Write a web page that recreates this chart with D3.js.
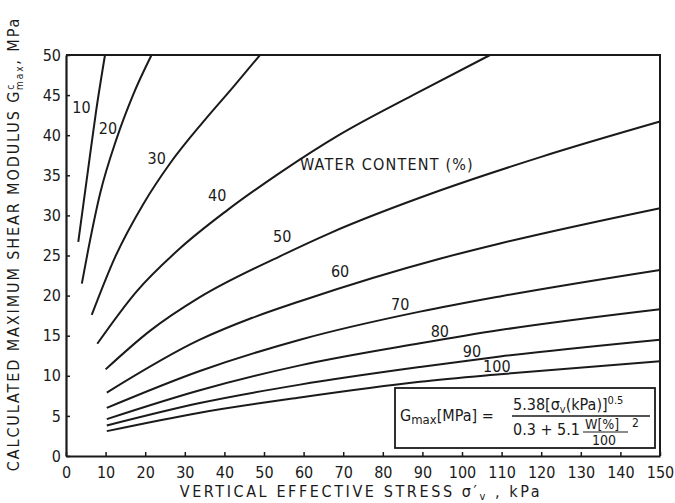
<!DOCTYPE html>
<html>
<head>
<meta charset="utf-8">
<script src="https://cdn.jsdelivr.net/npm/d3@7"></script>
<style>
  body { margin: 0; background: #fff; }
  text { font-family: "DejaVu Sans Condensed", "DejaVu Sans", sans-serif; fill: #1a1a1a; }
</style>
</head>
<body>
<div id="chart-area"></div>
<script>
// --- Data: [vertical effective stress kPa, Gmax MPa] ---
var waterContents = [10, 20, 30, 40, 50, 60, 70, 80, 90, 100];

var w10  = [[3.1, 26.7], [5.6, 35.8], [7.6, 43.0], [9.85, 50]];
var w20  = [[4.0, 21.5], [5.6, 25.7], [8.6, 32.7], [12.8, 39.6], [17.0, 45.1], [21.6, 50]];
var w30  = [[6.5, 17.6], [12.4, 24.8], [19.5, 31.4], [26.3, 36.5], [34.7, 41.7], [42.2, 46.0], [49, 50]];
var w40  = [[7.9, 14.0], [17.8, 20.5], [28.8, 25.9], [40.6, 30.6], [54, 35.3], [69.2, 40.1], [87.6, 45.0], [107.1, 50]];
var w50  = [[10, 10.8], [21.2, 15.6], [33.8, 19.8], [54, 24.9], [66.7, 27.8], [94.4, 33.1], [120, 37.3], [150, 41.7]];
var w60  = [[10.3, 7.9], [33.8, 14.5], [46.9, 17.2], [59.1, 19.3], [94.4, 24.6], [109.6, 26.5], [150, 30.9]];
var w70  = [[10.3, 6.0], [33.8, 10.6], [59.1, 14.5], [89.4, 18.0], [109.6, 19.9], [150, 23.2]];
var w80  = [[10.3, 4.6], [33.8, 8.2], [59.1, 11.3], [89.4, 14.05], [109.6, 15.7], [150, 18.3]];
var w90  = [[10.3, 3.8], [33.8, 6.6], [59.1, 8.9], [89.4, 11.1], [109.6, 12.4], [150, 14.5]];
var w100 = [[10.3, 3.1], [33.8, 5.4], [59.1, 7.3], [89.4, 9.26], [109.6, 10.2], [150, 11.8]];

var curves = [w10, w20, w30, w40, w50, w60, w70, w80, w90, w100];

// label anchor for each curve, in data units [stress, Gmax]
var labelPos = [[3.9, 43.5], [10.6, 40.8], [22.9, 37.1], [38.2, 32.5], [54.6, 27.4], [69.2, 23.0],
                [84.4, 18.9], [94.4, 15.5], [102.5, 13.1], [108.8, 11.2]];

var xTicks = d3.range(0, 151, 10);
var yTicks = d3.range(0, 51, 5);

// --- Setup the canvas ---
var margins = {top: 55, bottom: 47, left: 66, right: 15};
var width = 675 - margins.left - margins.right;
var height = 503 - margins.top - margins.bottom;

var svg = d3.select("#chart-area").append("svg")
    .attr("width", 675)
    .attr("height", 503);

var group = svg.append("g")
    .attr("transform", "translate(" + margins.left + ", " + margins.top + ")");

// --- Scales ---
var x = d3.scaleLinear().domain([0, 150]).range([0, width]);
var y = d3.scaleLinear().domain([0, 50]).range([height, 0]);

// --- Axes ---
var xAxis = d3.axisBottom(x).tickValues(xTicks).tickSizeInner(-4).tickSizeOuter(0).tickPadding(11);
var yAxis = d3.axisLeft(y).tickValues(yTicks).tickSizeInner(-4).tickSizeOuter(0).tickPadding(5);

var xAxisGroup = group.append("g")
    .attr("transform", "translate(0, " + height + ")")
    .call(xAxis);
var yAxisGroup = group.append("g").call(yAxis);

[xAxisGroup, yAxisGroup].forEach(function(g) {
    g.selectAll("path").attr("stroke", "#1a1a1a").attr("stroke-width", 2.2);
    g.selectAll("line").attr("stroke", "#1a1a1a").attr("stroke-width", 1.5);
    g.selectAll("text").attr("font-size", "16px").attr("fill", "#1a1a1a")
        .style("font-family", "'DejaVu Sans Condensed', 'DejaVu Sans', sans-serif");
});

// frame on top and right
group.append("path")
    .attr("d", "M0," + y(50) + "H" + x(150) + "V" + y(0))
    .attr("fill", "none")
    .attr("stroke", "#1a1a1a")
    .attr("stroke-width", 2);

// --- Curves ---
var line = d3.line()
    .x(function(d) { return x(d[0]); })
    .y(function(d) { return y(d[1]); })
    .curve(d3.curveMonotoneX);

group.selectAll("path.wc")
    .data(curves)
    .enter()
    .append("path")
        .attr("class", "wc")
        .attr("d", line)
        .attr("fill", "none")
        .attr("stroke", "#1a1a1a")
        .attr("stroke-width", 2);

group.selectAll("text.wc-label")
    .data(waterContents)
    .enter()
    .append("text")
        .attr("class", "wc-label")
        .attr("x", function(d, i) { return x(labelPos[i][0]); })
        .attr("y", function(d, i) { return y(labelPos[i][1]); })
        .attr("text-anchor", "middle")
        .attr("dy", "0.35em")
        .attr("font-size", "16px")
        .text(function(d) { return d; });

group.append("text")
    .attr("x", x(59.1))
    .attr("y", y(35.6))
    .attr("font-size", "16px")
    .attr("letter-spacing", "1.2px")
    .text("WATER CONTENT (%)");

// --- Formula box ---
var box = svg.append("g").attr("transform", "translate(395, 388)");
box.append("rect")
    .attr("width", 260).attr("height", 60)
    .attr("fill", "#fff")
    .attr("stroke", "#1a1a1a").attr("stroke-width", 1.8);

var lhs = box.append("text").attr("x", 5).attr("y", 33).attr("font-size", "16px");
lhs.append("tspan").text("G");
lhs.append("tspan").attr("dy", 3).attr("font-size", "13px").text("max");
lhs.append("tspan").attr("dy", -3).text("[MPa] =");

var num = box.append("text").attr("x", 118).attr("y", 22).attr("font-size", "16px");
num.append("tspan").text("5.38[σ");
num.append("tspan").attr("dy", 3).attr("font-size", "11px").text("v");
num.append("tspan").attr("dy", -3).text("(kPa)]");
num.append("tspan").attr("dy", -6).attr("font-size", "11px").text("0.5");

box.append("line")
    .attr("x1", 117).attr("x2", 255).attr("y1", 28).attr("y2", 28)
    .attr("stroke", "#1a1a1a").attr("stroke-width", 1.5);

box.append("text").attr("x", 118).attr("y", 47).attr("font-size", "16px").text("0.3 + 5.1");
box.append("text").attr("x", 190).attr("y", 41).attr("font-size", "14px").text("W[%]");
box.append("line")
    .attr("x1", 188).attr("x2", 233).attr("y1", 44).attr("y2", 44)
    .attr("stroke", "#1a1a1a").attr("stroke-width", 1.2);
box.append("text").attr("x", 197).attr("y", 57).attr("font-size", "14px").text("100");
box.append("text").attr("x", 237).attr("y", 39).attr("font-size", "12px").text("2");

// --- Axis titles ---
var xTitle = svg.append("text")
    .attr("x", 361)
    .attr("y", 497)
    .attr("text-anchor", "middle")
    .attr("font-size", "16px")
    .attr("letter-spacing", "2.6px");
xTitle.append("tspan").text("VERTICAL EFFECTIVE STRESS σ′");
xTitle.append("tspan").attr("dy", 3).attr("font-size", "11px").text("v");
xTitle.append("tspan").attr("dy", -3).text(" , kPa");

var yTitle = svg.append("text")
    .attr("transform", "translate(19, 244) rotate(-90)")
    .attr("text-anchor", "middle")
    .attr("font-size", "16px")
    .attr("letter-spacing", "1.9px");
yTitle.append("tspan").text("CALCULATED MAXIMUM SHEAR MODULUS G");
yTitle.append("tspan").attr("dy", -5).attr("font-size", "10px").text("c");
yTitle.append("tspan").attr("dx", -7).attr("dy", 9).attr("font-size", "10px").text("max");
yTitle.append("tspan").attr("dy", -4).text(", MPa");
</script>
</body>
</html>
